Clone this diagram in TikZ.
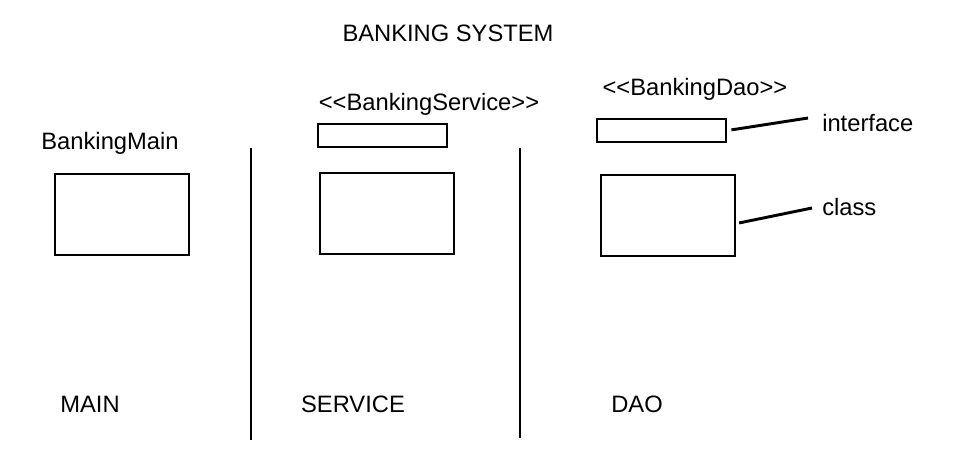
\documentclass[tikz,border=0pt]{standalone}
\usepackage{fontspec}
\setmainfont{Liberation Sans}
\begin{document}
\begin{tikzpicture}[x=0.75pt,y=-0.75pt,
    classbox/.style={draw,line width=2.2pt,rectangle,inner sep=0pt,minimum width=100.5pt,minimum height=60.75pt},
    ifacebox/.style={draw,line width=2.2pt,rectangle,inner sep=0pt,minimum width=96.75pt,minimum height=17.25pt},
    tier/.style={line width=2.2pt},
    txt/.style={inner sep=0pt,font=\fontsize{17.8}{21}\selectfont}]
      \useasboundingbox (0,0) rectangle (970,468);%

      \node[txt] (title) at (448,33) {BANKING SYSTEM};%

      \draw[tier] (251,148) -- (251,440);%
      \draw[tier] (520,148) -- (520,438);%

      \node[txt] (mainname) at (110,143) {BankingMain};%
      \node[classbox] (mainclass) at (122,214.5) {};%

      \node[txt] (servname) at (429,104) {{<}{<}BankingService{>}{>}};%
      \node[ifacebox] (servif) at (382.5,135.5) {};%
      \node[classbox] (servclass) at (387,213.5) {};%

      \node[txt] (daoname) at (695,89) {{<}{<}BankingDao{>}{>}};%
      \node[ifacebox] (daoif) at (661.5,130.5) {};%
      \node[classbox] (daoclass) at (668,215.5) {};%

      \node[txt,anchor=west] (iflabel) at (822,123) {interface};%
      \node[txt,anchor=west] (classlabel) at (822,207) {class};%
      \coordinate (iftip) at (808,118);%
      \coordinate (classtip) at (812,208);%
      \draw[line width=2.2pt,shorten <=3pt] (daoif.east) -- (iftip);%
      \draw[line width=2.2pt,shorten <=2pt] ([yshift=-6pt]daoclass.east) -- (classtip);%

      \node[txt] (mainlabel) at (90,404) {MAIN};%
      \node[txt] (servlabel) at (353,404) {SERVICE};%
      \node[txt] (daolabel) at (637,404) {DAO};%
    \end{tikzpicture}
\end{document}
